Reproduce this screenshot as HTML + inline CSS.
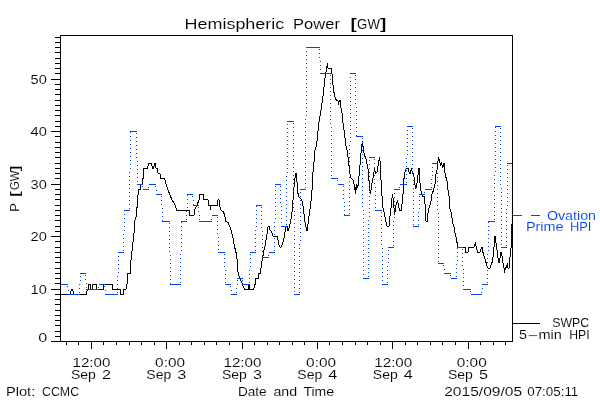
<!DOCTYPE html>
<html><head><meta charset="utf-8"><title>Hemispheric Power</title>
<style>html,body{margin:0;padding:0;background:#fff}svg{display:block}text{font-family:"Liberation Sans",sans-serif;fill:#000;stroke:#fff;stroke-width:.1px}</style></head><body>
<svg width="600" height="400" viewBox="0 0 600 400">
<rect width="600" height="400" fill="#fff"/>
<path d="M60.5 35.5H512.5V341.5H60.5ZM51 341.5H60M51 341.5H60M55 336.5H60M55 331.5H60M55 325.5H60M55 320.5H60M55 315.5H60M55 310.5H60M55 304.5H60M55 299.5H60M55 294.5H60M51 289.5H60M55 283.5H60M55 278.5H60M55 273.5H60M55 268.5H60M55 262.5H60M55 257.5H60M55 252.5H60M55 247.5H60M55 241.5H60M51 236.5H60M55 231.5H60M55 226.5H60M55 220.5H60M55 215.5H60M55 210.5H60M55 205.5H60M55 199.5H60M55 194.5H60M55 189.5H60M51 184.5H60M55 178.5H60M55 173.5H60M55 168.5H60M55 163.5H60M55 157.5H60M55 152.5H60M55 147.5H60M55 142.5H60M55 136.5H60M51 131.5H60M55 126.5H60M55 121.5H60M55 115.5H60M55 110.5H60M55 105.5H60M55 100.5H60M55 94.5H60M55 89.5H60M55 84.5H60M51 79.5H60M55 73.5H60M55 68.5H60M55 63.5H60M55 58.5H60M55 52.5H60M55 47.5H60M55 42.5H60M55 37.5H60M66.5 342V345M78.5 342V345M91.5 342V349M103.5 342V345M116.5 342V345M129.5 342V345M141.5 342V345M154.5 342V345M166.5 342V349M179.5 342V345M191.5 342V345M204.5 342V345M216.5 342V345M229.5 342V345M242.5 342V349M254.5 342V345M267.5 342V345M279.5 342V345M292.5 342V345M304.5 342V345M317.5 342V349M329.5 342V345M342.5 342V345M355.5 342V345M367.5 342V345M380.5 342V345M392.5 342V349M405.5 342V345M417.5 342V345M430.5 342V345M442.5 342V345M455.5 342V345M468.5 342V349M480.5 342V345M493.5 342V345M505.5 342V345" fill="none" stroke="#000" stroke-width="1" shape-rendering="crispEdges"/>
<polyline points="60.5,294.5 70,294.5 70.5,292.5 71.5,289.5 72.5,289.5 73.5,292.5 74,294.5 86.5,294.5 86.5,292 87.5,289.5 88.5,289.5 88.5,284.5 90.5,284.5 90.5,289.5 92.5,289.5 92.5,284.5 96.5,284.5 96.5,289.5 103.5,289.5 103.5,284.5 112.5,284.5 112.5,289.5 120,289.4 120.4,294.4 123.2,294.4 123.6,289.4 126,289.4 127,284.4 127.4,276 128,273.4 130.4,273.4 130.4,266 131.4,256 132.4,248 133.4,238 134.4,230 134.4,221 135.6,219 136.6,214 137.6,198 138.5,192 138.5,189.5 140.5,189.5 140.5,184.5 142.5,184.5 142.5,178.5 143.5,178 143.5,169 144,168.5 147.5,168.5 148.5,163.5 151.5,163.5 152.5,168 153.5,168 154.5,163.5 155.5,163.5 156,168 157.5,168.5 158,173 160,173.5 160.5,178.5 164.5,178.5 166,184 168,190 170,195 172,200 174,203 175.6,206 176.6,210 189,210 189.4,215 194,215 194.4,210 195.6,208 197,205 199,200 200,194.4 203.6,194.4 204,199.6 208,199.6 208.6,205 210,205 210.6,210 211,205 217.6,205 218,199.6 219,199.6 219.4,205 221,210 223.6,212 225,217 226,221.4 228,222.4 230,227 231.6,232 233,238 234.4,246 236,252.4 237.5,262 237.5,271 238.5,273.5 239.5,278 240.5,280 241.5,282 242.5,284.5 243.5,287 244.5,289.5 248.5,289.5 249,284.5 249.5,284.5 250,289.5 253.5,289.5 254.5,287 254.5,284.5 255.5,284.5 255.5,278.5 258.5,278.5 259,273.5 260.5,273.5 261,268 262,261 263,256 264,250 265,246 266,240 267,234 268,227 269,226.4 270,230 271.6,232 273,236 277,236.4 278,240 279,245 280,247 281,247 282,245 283.6,240 285,232 286,227 287.4,226.4 288,231 289.4,227 290.4,222 291.6,216 292.6,206 293.6,192 294.6,180 296,173 297,182 297.6,192 299,197 301,199 302.4,202 303.6,210 304.4,218 305.6,225 307,231 308,224 309,216 310.4,206 311.6,196 312.4,184 313,172 314,162 314.4,158 315,150 316.4,146 317.4,138 318.4,126 320,116 321.4,108 322.4,100 323.6,92 324.4,82 325.4,76 326.4,70 327.4,63 328,68 331.4,68.4 332,74 332.6,82 333.6,90 334.6,96 336,99.6 338,101 338.6,105 339.4,100 340.4,100 341,108 342,113 342.6,120 344,130 345,138 346,146 347.4,152 348.6,162 349.6,172 351,178 353,180 354,184 355,190 355.6,194 356.2,184.4 356.8,190.4 357.4,185 357.8,188 358.6,180 359.6,170 360.6,158 361.6,146 362.6,141 363.4,150 364.4,155 366,159 367,164 368,169 368.4,174 369.4,186 370.4,194 371.4,188 372.4,180 373.6,176 374.4,168 375.6,173 377,172 378.4,164 379.4,157 380.4,164 381,180 382,196 383,208 384.4,214 385.6,220 387,226 389,226 389.6,219 390.6,212 391.6,202 392.4,194 393.4,200 394,208 394.6,215 395.6,207 396.6,203 397.6,200 398.4,205 399.4,210 401.6,210.4 402,204 403,194 403.4,186 404.4,174 405.6,170 406.6,168 408,168 409.4,173 410.4,173 411.4,168 412.4,173 413.6,174 414.6,182 415.6,189 416.6,186 417.6,178 419,168 419.6,179 420.6,188 421.4,193 422.6,196 424,196 425,204 425.6,213 426,221 427.4,221 428,213 429,208 430.4,204 431.6,198 432,194 433.6,190 435,184 436,174 437.4,168 438.4,157 439.4,160 440.4,165 441.6,163 442.6,168 444,163 444.4,170 445.6,176 447,181 448,190 449,196 450,209 451.6,214 452.4,222 454,227 455,233 456.6,239 457.6,247.4 465,247.4 465.6,252.4 468,252.4 468.6,247.4 474,247.4 475.4,242.4 476.4,248 477.6,252.4 480,252.4 481,249 482,247.4 483,252.4 484,256 485.4,260 486.6,265 487.6,268 490,268.4 491,265 492.6,261 493.6,252 494.4,242 495,236.4 496,243 497,250 498,258 499,263 500,258 501,252.4 502,256 503,263 504,268 504.4,273 505.4,268 506.6,267 507.6,263 508,268 509,268 509.6,261 510.6,252 511.4,245 511.5,224" fill="none" stroke="#000" stroke-width="1" stroke-linejoin="miter" shape-rendering="crispEdges"/>
<path d="M67 286h1v1h-1zM68 290h1v1h-1zM79 292h1v1h-1zM79 288h1v1h-1zM79 284h1v1h-1zM80 280h1v1h-1zM80 276h1v1h-1zM85 275h1v1h-1zM85 279h1v1h-1zM86 283h1v1h-1zM86 287h1v1h-1zM98 287h1v1h-1zM104 286h1v1h-1zM105 290h1v1h-1zM117 292h1v1h-1zM117 288h1v1h-1zM117 284h1v1h-1zM117 280h1v1h-1zM117 276h1v1h-1zM118 272h1v1h-1zM118 268h1v1h-1zM118 264h1v1h-1zM118 260h1v1h-1zM118 256h1v1h-1zM123 250h1v1h-1zM123 246h1v1h-1zM123 242h1v1h-1zM123 238h1v1h-1zM123 234h1v1h-1zM124 230h1v1h-1zM124 226h1v1h-1zM124 222h1v1h-1zM124 218h1v1h-1zM124 214h1v1h-1zM129 208h1v1h-1zM129 204h1v1h-1zM129 200h1v1h-1zM129 196h1v1h-1zM129 192h1v1h-1zM129 188h1v1h-1zM129 184h1v1h-1zM129 180h1v1h-1zM129 176h1v1h-1zM129 172h1v1h-1zM130 168h1v1h-1zM130 164h1v1h-1zM130 160h1v1h-1zM130 156h1v1h-1zM130 152h1v1h-1zM130 148h1v1h-1zM130 144h1v1h-1zM130 140h1v1h-1zM130 136h1v1h-1zM130 132h1v1h-1zM136 133h1v1h-1zM136 137h1v1h-1zM136 141h1v1h-1zM136 145h1v1h-1zM136 149h1v1h-1zM136 153h1v1h-1zM136 157h1v1h-1zM137 161h1v1h-1zM137 165h1v1h-1zM137 169h1v1h-1zM137 173h1v1h-1zM137 177h1v1h-1zM137 181h1v1h-1zM142 186h1v1h-1zM148 187h1v1h-1zM155 186h1v1h-1zM156 190h1v1h-1zM161 196h1v1h-1zM161 200h1v1h-1zM161 204h1v1h-1zM162 208h1v1h-1zM162 212h1v1h-1zM162 216h1v1h-1zM162 220h1v1h-1zM169 223h1v1h-1zM169 227h1v1h-1zM169 231h1v1h-1zM169 235h1v1h-1zM169 239h1v1h-1zM169 243h1v1h-1zM169 247h1v1h-1zM169 251h1v1h-1zM170 255h1v1h-1zM170 259h1v1h-1zM170 263h1v1h-1zM170 267h1v1h-1zM170 271h1v1h-1zM170 275h1v1h-1zM170 279h1v1h-1zM170 283h1v1h-1zM180 282h1v1h-1zM180 278h1v1h-1zM180 274h1v1h-1zM180 270h1v1h-1zM180 266h1v1h-1zM180 262h1v1h-1zM180 258h1v1h-1zM180 254h1v1h-1zM181 250h1v1h-1zM181 246h1v1h-1zM181 242h1v1h-1zM181 238h1v1h-1zM181 234h1v1h-1zM181 230h1v1h-1zM181 226h1v1h-1zM181 222h1v1h-1zM186 219h1v1h-1zM186 215h1v1h-1zM186 211h1v1h-1zM187 207h1v1h-1zM187 203h1v1h-1zM187 199h1v1h-1zM187 195h1v1h-1zM192 196h1v1h-1zM193 200h1v1h-1zM193 204h1v1h-1zM198 207h1v1h-1zM198 211h1v1h-1zM199 215h1v1h-1zM199 219h1v1h-1zM211 219h1v1h-1zM217 217h1v1h-1zM217 221h1v1h-1zM217 225h1v1h-1zM217 229h1v1h-1zM217 233h1v1h-1zM218 237h1v1h-1zM218 241h1v1h-1zM218 245h1v1h-1zM218 249h1v1h-1zM224 254h1v1h-1zM224 258h1v1h-1zM224 262h1v1h-1zM224 266h1v1h-1zM225 270h1v1h-1zM225 274h1v1h-1zM225 278h1v1h-1zM225 282h1v1h-1zM230 286h1v1h-1zM231 290h1v1h-1zM236 292h1v1h-1zM236 288h1v1h-1zM237 284h1v1h-1zM237 280h1v1h-1zM242 280h1v1h-1zM249 282h1v1h-1zM249 278h1v1h-1zM249 274h1v1h-1zM249 270h1v1h-1zM250 266h1v1h-1zM250 262h1v1h-1zM250 258h1v1h-1zM250 254h1v1h-1zM255 250h1v1h-1zM255 246h1v1h-1zM255 242h1v1h-1zM255 238h1v1h-1zM255 234h1v1h-1zM255 230h1v1h-1zM256 226h1v1h-1zM256 222h1v1h-1zM256 218h1v1h-1zM256 214h1v1h-1zM256 210h1v1h-1zM256 206h1v1h-1zM261 207h1v1h-1zM261 211h1v1h-1zM261 215h1v1h-1zM261 219h1v1h-1zM261 223h1v1h-1zM261 227h1v1h-1zM262 231h1v1h-1zM262 235h1v1h-1zM262 239h1v1h-1zM262 243h1v1h-1zM262 247h1v1h-1zM262 251h1v1h-1zM262 255h1v1h-1zM268 255h1v1h-1zM274 250h1v1h-1zM274 246h1v1h-1zM274 242h1v1h-1zM274 238h1v1h-1zM274 234h1v1h-1zM274 230h1v1h-1zM274 226h1v1h-1zM274 222h1v1h-1zM275 218h1v1h-1zM275 214h1v1h-1zM275 210h1v1h-1zM275 206h1v1h-1zM275 202h1v1h-1zM275 198h1v1h-1zM275 194h1v1h-1zM275 190h1v1h-1zM275 186h1v1h-1zM280 186h1v1h-1zM280 190h1v1h-1zM280 194h1v1h-1zM280 198h1v1h-1zM280 202h1v1h-1zM281 206h1v1h-1zM281 210h1v1h-1zM281 214h1v1h-1zM281 218h1v1h-1zM281 222h1v1h-1zM286 224h1v1h-1zM286 220h1v1h-1zM286 216h1v1h-1zM286 212h1v1h-1zM286 208h1v1h-1zM286 204h1v1h-1zM286 200h1v1h-1zM286 196h1v1h-1zM286 192h1v1h-1zM286 188h1v1h-1zM286 184h1v1h-1zM286 180h1v1h-1zM286 176h1v1h-1zM287 172h1v1h-1zM287 168h1v1h-1zM287 164h1v1h-1zM287 160h1v1h-1zM287 156h1v1h-1zM287 152h1v1h-1zM287 148h1v1h-1zM287 144h1v1h-1zM287 140h1v1h-1zM287 136h1v1h-1zM287 132h1v1h-1zM287 128h1v1h-1zM287 124h1v1h-1zM293 123h1v1h-1zM293 127h1v1h-1zM293 131h1v1h-1zM293 135h1v1h-1zM293 139h1v1h-1zM293 143h1v1h-1zM293 147h1v1h-1zM293 151h1v1h-1zM293 155h1v1h-1zM293 159h1v1h-1zM293 163h1v1h-1zM293 167h1v1h-1zM293 171h1v1h-1zM293 175h1v1h-1zM293 179h1v1h-1zM293 183h1v1h-1zM293 187h1v1h-1zM293 191h1v1h-1zM293 195h1v1h-1zM293 199h1v1h-1zM293 203h1v1h-1zM293 207h1v1h-1zM294 211h1v1h-1zM294 215h1v1h-1zM294 219h1v1h-1zM294 223h1v1h-1zM294 227h1v1h-1zM294 231h1v1h-1zM294 235h1v1h-1zM294 239h1v1h-1zM294 243h1v1h-1zM294 247h1v1h-1zM294 251h1v1h-1zM294 255h1v1h-1zM294 259h1v1h-1zM294 263h1v1h-1zM294 267h1v1h-1zM294 271h1v1h-1zM294 275h1v1h-1zM294 279h1v1h-1zM294 283h1v1h-1zM294 287h1v1h-1zM294 291h1v1h-1zM299 292h1v1h-1zM299 288h1v1h-1zM299 284h1v1h-1zM299 280h1v1h-1zM299 276h1v1h-1zM299 272h1v1h-1zM299 268h1v1h-1zM299 264h1v1h-1zM299 260h1v1h-1zM299 256h1v1h-1zM299 252h1v1h-1zM299 248h1v1h-1zM299 244h1v1h-1zM300 240h1v1h-1zM300 236h1v1h-1zM300 232h1v1h-1zM300 228h1v1h-1zM300 224h1v1h-1zM300 220h1v1h-1zM300 216h1v1h-1zM300 212h1v1h-1zM300 208h1v1h-1zM300 204h1v1h-1zM300 200h1v1h-1zM300 196h1v1h-1zM300 192h1v1h-1zM305 187h1v1h-1zM305 183h1v1h-1zM305 179h1v1h-1zM305 175h1v1h-1zM305 171h1v1h-1zM305 167h1v1h-1zM305 163h1v1h-1zM305 159h1v1h-1zM305 155h1v1h-1zM305 151h1v1h-1zM305 147h1v1h-1zM305 143h1v1h-1zM305 139h1v1h-1zM305 135h1v1h-1zM305 131h1v1h-1zM305 127h1v1h-1zM305 123h1v1h-1zM305 119h1v1h-1zM306 115h1v1h-1zM306 111h1v1h-1zM306 107h1v1h-1zM306 103h1v1h-1zM306 99h1v1h-1zM306 95h1v1h-1zM306 91h1v1h-1zM306 87h1v1h-1zM306 83h1v1h-1zM306 79h1v1h-1zM306 75h1v1h-1zM306 71h1v1h-1zM306 67h1v1h-1zM306 63h1v1h-1zM306 59h1v1h-1zM306 55h1v1h-1zM306 51h1v1h-1zM319 49h1v1h-1zM319 53h1v1h-1zM319 57h1v1h-1zM320 61h1v1h-1zM320 65h1v1h-1zM320 69h1v1h-1zM330 75h1v1h-1zM330 79h1v1h-1zM330 83h1v1h-1zM330 87h1v1h-1zM330 91h1v1h-1zM330 95h1v1h-1zM330 99h1v1h-1zM330 103h1v1h-1zM330 107h1v1h-1zM330 111h1v1h-1zM330 115h1v1h-1zM330 119h1v1h-1zM330 123h1v1h-1zM331 127h1v1h-1zM331 131h1v1h-1zM331 135h1v1h-1zM331 139h1v1h-1zM331 143h1v1h-1zM331 147h1v1h-1zM331 151h1v1h-1zM331 155h1v1h-1zM331 159h1v1h-1zM331 163h1v1h-1zM331 167h1v1h-1zM331 171h1v1h-1zM331 175h1v1h-1zM337 180h1v1h-1zM343 186h1v1h-1zM343 190h1v1h-1zM343 194h1v1h-1zM343 198h1v1h-1zM344 202h1v1h-1zM344 206h1v1h-1zM344 210h1v1h-1zM344 214h1v1h-1zM349 213h1v1h-1zM349 209h1v1h-1zM349 205h1v1h-1zM349 201h1v1h-1zM349 197h1v1h-1zM349 193h1v1h-1zM349 189h1v1h-1zM349 185h1v1h-1zM349 181h1v1h-1zM349 177h1v1h-1zM349 173h1v1h-1zM349 169h1v1h-1zM349 165h1v1h-1zM349 161h1v1h-1zM349 157h1v1h-1zM349 153h1v1h-1zM349 149h1v1h-1zM349 145h1v1h-1zM350 141h1v1h-1zM350 137h1v1h-1zM350 133h1v1h-1zM350 129h1v1h-1zM350 125h1v1h-1zM350 121h1v1h-1zM350 117h1v1h-1zM350 113h1v1h-1zM350 109h1v1h-1zM350 105h1v1h-1zM350 101h1v1h-1zM350 97h1v1h-1zM350 93h1v1h-1zM350 89h1v1h-1zM350 85h1v1h-1zM350 81h1v1h-1zM350 77h1v1h-1zM355 75h1v1h-1zM355 79h1v1h-1zM355 83h1v1h-1zM355 87h1v1h-1zM355 91h1v1h-1zM355 95h1v1h-1zM355 99h1v1h-1zM355 103h1v1h-1zM356 107h1v1h-1zM356 111h1v1h-1zM356 115h1v1h-1zM356 119h1v1h-1zM356 123h1v1h-1zM356 127h1v1h-1zM356 131h1v1h-1zM356 135h1v1h-1zM362 138h1v1h-1zM362 142h1v1h-1zM362 146h1v1h-1zM362 150h1v1h-1zM362 154h1v1h-1zM362 158h1v1h-1zM362 162h1v1h-1zM362 166h1v1h-1zM362 170h1v1h-1zM362 174h1v1h-1zM362 178h1v1h-1zM362 182h1v1h-1zM362 186h1v1h-1zM362 190h1v1h-1zM362 194h1v1h-1zM362 198h1v1h-1zM362 202h1v1h-1zM362 206h1v1h-1zM363 210h1v1h-1zM363 214h1v1h-1zM363 218h1v1h-1zM363 222h1v1h-1zM363 226h1v1h-1zM363 230h1v1h-1zM363 234h1v1h-1zM363 238h1v1h-1zM363 242h1v1h-1zM363 246h1v1h-1zM363 250h1v1h-1zM363 254h1v1h-1zM363 258h1v1h-1zM363 262h1v1h-1zM363 266h1v1h-1zM363 270h1v1h-1zM363 274h1v1h-1zM368 276h1v1h-1zM368 272h1v1h-1zM368 268h1v1h-1zM368 264h1v1h-1zM368 260h1v1h-1zM368 256h1v1h-1zM368 252h1v1h-1zM368 248h1v1h-1zM368 244h1v1h-1zM368 240h1v1h-1zM368 236h1v1h-1zM368 232h1v1h-1zM368 228h1v1h-1zM368 224h1v1h-1zM368 220h1v1h-1zM369 216h1v1h-1zM369 212h1v1h-1zM369 208h1v1h-1zM369 204h1v1h-1zM369 200h1v1h-1zM369 196h1v1h-1zM369 192h1v1h-1zM369 188h1v1h-1zM369 184h1v1h-1zM369 180h1v1h-1zM369 176h1v1h-1zM369 172h1v1h-1zM369 168h1v1h-1zM369 164h1v1h-1zM369 160h1v1h-1zM374 159h1v1h-1zM374 163h1v1h-1zM374 167h1v1h-1zM374 171h1v1h-1zM374 175h1v1h-1zM374 179h1v1h-1zM374 183h1v1h-1zM375 187h1v1h-1zM375 191h1v1h-1zM375 195h1v1h-1zM375 199h1v1h-1zM375 203h1v1h-1zM375 207h1v1h-1zM381 212h1v1h-1zM381 216h1v1h-1zM381 220h1v1h-1zM381 224h1v1h-1zM381 228h1v1h-1zM381 232h1v1h-1zM381 236h1v1h-1zM381 240h1v1h-1zM381 244h1v1h-1zM382 248h1v1h-1zM382 252h1v1h-1zM382 256h1v1h-1zM382 260h1v1h-1zM382 264h1v1h-1zM382 268h1v1h-1zM382 272h1v1h-1zM382 276h1v1h-1zM382 280h1v1h-1zM387 282h1v1h-1zM387 278h1v1h-1zM387 274h1v1h-1zM387 270h1v1h-1zM387 266h1v1h-1zM388 262h1v1h-1zM388 258h1v1h-1zM388 254h1v1h-1zM388 250h1v1h-1zM393 245h1v1h-1zM393 241h1v1h-1zM393 237h1v1h-1zM393 233h1v1h-1zM393 229h1v1h-1zM393 225h1v1h-1zM393 221h1v1h-1zM394 217h1v1h-1zM394 213h1v1h-1zM394 209h1v1h-1zM394 205h1v1h-1zM394 201h1v1h-1zM394 197h1v1h-1zM394 193h1v1h-1zM399 187h1v1h-1zM406 182h1v1h-1zM406 178h1v1h-1zM406 174h1v1h-1zM406 170h1v1h-1zM406 166h1v1h-1zM406 162h1v1h-1zM406 158h1v1h-1zM407 154h1v1h-1zM407 150h1v1h-1zM407 146h1v1h-1zM407 142h1v1h-1zM407 138h1v1h-1zM407 134h1v1h-1zM407 130h1v1h-1zM412 128h1v1h-1zM412 132h1v1h-1zM412 136h1v1h-1zM412 140h1v1h-1zM412 144h1v1h-1zM412 148h1v1h-1zM412 152h1v1h-1zM412 156h1v1h-1zM412 160h1v1h-1zM412 164h1v1h-1zM412 168h1v1h-1zM412 172h1v1h-1zM413 176h1v1h-1zM413 180h1v1h-1zM413 184h1v1h-1zM413 188h1v1h-1zM413 192h1v1h-1zM413 196h1v1h-1zM413 200h1v1h-1zM413 204h1v1h-1zM413 208h1v1h-1zM413 212h1v1h-1zM413 216h1v1h-1zM413 220h1v1h-1zM413 224h1v1h-1zM418 224h1v1h-1zM418 220h1v1h-1zM418 216h1v1h-1zM418 212h1v1h-1zM419 208h1v1h-1zM419 204h1v1h-1zM419 200h1v1h-1zM419 196h1v1h-1zM424 192h1v1h-1zM431 187h1v1h-1zM431 183h1v1h-1zM431 179h1v1h-1zM432 175h1v1h-1zM432 171h1v1h-1zM432 167h1v1h-1zM437 165h1v1h-1zM437 169h1v1h-1zM437 173h1v1h-1zM437 177h1v1h-1zM437 181h1v1h-1zM437 185h1v1h-1zM437 189h1v1h-1zM437 193h1v1h-1zM437 197h1v1h-1zM437 201h1v1h-1zM437 205h1v1h-1zM437 209h1v1h-1zM438 213h1v1h-1zM438 217h1v1h-1zM438 221h1v1h-1zM438 225h1v1h-1zM438 229h1v1h-1zM438 233h1v1h-1zM438 237h1v1h-1zM438 241h1v1h-1zM438 245h1v1h-1zM438 249h1v1h-1zM438 253h1v1h-1zM438 257h1v1h-1zM438 261h1v1h-1zM443 265h1v1h-1zM444 269h1v1h-1zM450 275h1v1h-1zM456 276h1v1h-1zM456 272h1v1h-1zM456 268h1v1h-1zM456 264h1v1h-1zM457 260h1v1h-1zM457 256h1v1h-1zM457 252h1v1h-1zM457 248h1v1h-1zM462 249h1v1h-1zM462 253h1v1h-1zM462 257h1v1h-1zM462 261h1v1h-1zM462 265h1v1h-1zM463 269h1v1h-1zM463 273h1v1h-1zM463 277h1v1h-1zM463 281h1v1h-1zM463 285h1v1h-1zM470 291h1v1h-1zM481 292h1v1h-1zM482 288h1v1h-1zM487 282h1v1h-1zM487 278h1v1h-1zM487 274h1v1h-1zM487 270h1v1h-1zM487 266h1v1h-1zM487 262h1v1h-1zM487 258h1v1h-1zM487 254h1v1h-1zM488 250h1v1h-1zM488 246h1v1h-1zM488 242h1v1h-1zM488 238h1v1h-1zM488 234h1v1h-1zM488 230h1v1h-1zM488 226h1v1h-1zM488 222h1v1h-1zM494 219h1v1h-1zM494 215h1v1h-1zM494 211h1v1h-1zM494 207h1v1h-1zM494 203h1v1h-1zM494 199h1v1h-1zM494 195h1v1h-1zM494 191h1v1h-1zM494 187h1v1h-1zM494 183h1v1h-1zM494 179h1v1h-1zM494 175h1v1h-1zM495 171h1v1h-1zM495 167h1v1h-1zM495 163h1v1h-1zM495 159h1v1h-1zM495 155h1v1h-1zM495 151h1v1h-1zM495 147h1v1h-1zM495 143h1v1h-1zM495 139h1v1h-1zM495 135h1v1h-1zM495 131h1v1h-1zM495 127h1v1h-1zM500 128h1v1h-1zM500 132h1v1h-1zM500 136h1v1h-1zM500 140h1v1h-1zM500 144h1v1h-1zM500 148h1v1h-1zM500 152h1v1h-1zM500 156h1v1h-1zM500 160h1v1h-1zM500 164h1v1h-1zM500 168h1v1h-1zM500 172h1v1h-1zM500 176h1v1h-1zM500 180h1v1h-1zM500 184h1v1h-1zM501 188h1v1h-1zM501 192h1v1h-1zM501 196h1v1h-1zM501 200h1v1h-1zM501 204h1v1h-1zM501 208h1v1h-1zM501 212h1v1h-1zM501 216h1v1h-1zM501 220h1v1h-1zM501 224h1v1h-1zM501 228h1v1h-1zM501 232h1v1h-1zM501 236h1v1h-1zM501 240h1v1h-1zM501 244h1v1h-1zM506 245h1v1h-1zM506 241h1v1h-1zM506 237h1v1h-1zM506 233h1v1h-1zM506 229h1v1h-1zM506 225h1v1h-1zM506 221h1v1h-1zM506 217h1v1h-1zM506 213h1v1h-1zM506 209h1v1h-1zM507 205h1v1h-1zM507 201h1v1h-1zM507 197h1v1h-1zM507 193h1v1h-1zM507 189h1v1h-1zM507 185h1v1h-1zM507 181h1v1h-1zM507 177h1v1h-1zM507 173h1v1h-1zM507 169h1v1h-1zM507 165h1v1h-1z" fill="#0044f0" stroke="none" shape-rendering="crispEdges"/>
<path d="M61 284.5H68M68 294.5H80M80 273.5H86M86 289.5H99M99 284.5H105M105 294.5H118M118 252.5H124M124 210.5H130M130 131.5H137M137 184.5H143M143 189.5H149M149 184.5H156M156 194.5H162M162 221.5H170M170 284.5H181M181 221.5H187M187 194.5H193M193 205.5H199M199 221.5H212M212 215.5H218M218 252.5H225M225 284.5H231M231 294.5H237M237 278.5H243M243 284.5H250M250 252.5H256M256 205.5H262M262 257.5H269M269 252.5H275M275 184.5H281M281 226.5H287M287 121.5H294M294 294.5H300M300 189.5H306M306 47.5H320M320 73.5H331M331 178.5H338M338 184.5H344M344 215.5H350M350 73.5H356M356 136.5H363M363 278.5H369M369 157.5H375M375 210.5H382M382 284.5H388M388 247.5H394M394 189.5H400M400 184.5H407M407 126.5H413M413 226.5H419M419 194.5H425M425 189.5H432M432 163.5H438M438 263.5H444M444 273.5H451M451 278.5H457M457 247.5H463M463 289.5H471M471 294.5H482M482 284.5H488M488 221.5H495M495 126.5H501M501 247.5H507M507 163.5H512" fill="none" stroke="#0044f0" stroke-width="1" shape-rendering="crispEdges"/>
<path d="M513 215.5H522M531 215.5H540" stroke="#0044f0" stroke-width="1" fill="none" shape-rendering="crispEdges"/>
<path d="M513 323.5H540" stroke="#000" stroke-width="1" fill="none" shape-rendering="crispEdges"/>
<text y="29.2" font-size="15.4"><tspan x="184.5" textLength="99.8" lengthAdjust="spacingAndGlyphs">Hemispheric</tspan> <tspan x="293.1" textLength="46.8" lengthAdjust="spacingAndGlyphs">Power</tspan> <tspan x="350.4" textLength="6.3" lengthAdjust="spacingAndGlyphs" font-weight="bold">[</tspan><tspan x="357.1" textLength="22.8" lengthAdjust="spacingAndGlyphs">GW</tspan><tspan x="380.1" textLength="6.3" lengthAdjust="spacingAndGlyphs" font-weight="bold">]</tspan></text>
<text y="83.8" font-size="13"><tspan x="30.5" textLength="16.3" lengthAdjust="spacingAndGlyphs">50</tspan></text>
<text y="136.3" font-size="13"><tspan x="30.5" textLength="16.3" lengthAdjust="spacingAndGlyphs">40</tspan></text>
<text y="188.8" font-size="13"><tspan x="30.5" textLength="16.3" lengthAdjust="spacingAndGlyphs">30</tspan></text>
<text y="241.3" font-size="13"><tspan x="30.5" textLength="16.3" lengthAdjust="spacingAndGlyphs">20</tspan></text>
<text y="293.8" font-size="13"><tspan x="30.5" textLength="16.3" lengthAdjust="spacingAndGlyphs">10</tspan></text>
<text y="341.7" font-size="13"><tspan x="38.2" textLength="9" lengthAdjust="spacingAndGlyphs">0</tspan></text>
<text y="366.8" font-size="13"><tspan x="72.5" textLength="37.9" lengthAdjust="spacingAndGlyphs">12:00</tspan></text>
<text y="378.8" font-size="13"><tspan x="71" textLength="24.9" lengthAdjust="spacingAndGlyphs">Sep</tspan> <tspan x="102" textLength="9" lengthAdjust="spacingAndGlyphs">2</tspan></text>
<text y="366.8" font-size="13"><tspan x="155.1" textLength="29.9" lengthAdjust="spacingAndGlyphs">0:00</tspan></text>
<text y="378.8" font-size="13"><tspan x="146.3" textLength="24.9" lengthAdjust="spacingAndGlyphs">Sep</tspan> <tspan x="177.3" textLength="9" lengthAdjust="spacingAndGlyphs">3</tspan></text>
<text y="366.8" font-size="13"><tspan x="223.5" textLength="37.9" lengthAdjust="spacingAndGlyphs">12:00</tspan></text>
<text y="378.8" font-size="13"><tspan x="222" textLength="24.9" lengthAdjust="spacingAndGlyphs">Sep</tspan> <tspan x="253" textLength="9" lengthAdjust="spacingAndGlyphs">3</tspan></text>
<text y="366.8" font-size="13"><tspan x="306.1" textLength="29.9" lengthAdjust="spacingAndGlyphs">0:00</tspan></text>
<text y="378.8" font-size="13"><tspan x="297.3" textLength="24.9" lengthAdjust="spacingAndGlyphs">Sep</tspan> <tspan x="328.3" textLength="9" lengthAdjust="spacingAndGlyphs">4</tspan></text>
<text y="366.8" font-size="13"><tspan x="374.3" textLength="37.9" lengthAdjust="spacingAndGlyphs">12:00</tspan></text>
<text y="378.8" font-size="13"><tspan x="372.8" textLength="24.9" lengthAdjust="spacingAndGlyphs">Sep</tspan> <tspan x="403.8" textLength="9" lengthAdjust="spacingAndGlyphs">4</tspan></text>
<text y="366.8" font-size="13"><tspan x="456.8" textLength="29.9" lengthAdjust="spacingAndGlyphs">0:00</tspan></text>
<text y="378.8" font-size="13"><tspan x="448" textLength="24.9" lengthAdjust="spacingAndGlyphs">Sep</tspan> <tspan x="479" textLength="9" lengthAdjust="spacingAndGlyphs">5</tspan></text>
<text y="395.9" font-size="13"><tspan x="5.9" textLength="29.4" lengthAdjust="spacingAndGlyphs">Plot:</tspan> <tspan x="42" textLength="37.1" lengthAdjust="spacingAndGlyphs">CCMC</tspan></text>
<text y="395.9" font-size="13"><tspan x="237.9" textLength="28.7" lengthAdjust="spacingAndGlyphs">Date</tspan> <tspan x="273.4" textLength="23.7" lengthAdjust="spacingAndGlyphs">and</tspan> <tspan x="303.4" textLength="30.7" lengthAdjust="spacingAndGlyphs">Time</tspan></text>
<text y="395.9" font-size="13"><tspan x="444.2" textLength="77.9" lengthAdjust="spacingAndGlyphs">2015/09/05</tspan> <tspan x="527.2" textLength="51.1" lengthAdjust="spacingAndGlyphs">07:05:11</tspan></text>
<text y="219.9" font-size="13" style="fill:#0044f0"><tspan x="546.9" textLength="49.1" lengthAdjust="spacingAndGlyphs">Ovation</tspan></text>
<text y="231.3" font-size="13" style="fill:#0044f0"><tspan x="525.9" textLength="37.7" lengthAdjust="spacingAndGlyphs">Prime</tspan> <tspan x="569.9" textLength="21.4" lengthAdjust="spacingAndGlyphs">HPI</tspan></text>
<text y="326.5" font-size="13"><tspan x="552.2" textLength="37" lengthAdjust="spacingAndGlyphs">SWPC</tspan></text>
<text y="338.6" font-size="13"><tspan x="519" textLength="8" lengthAdjust="spacingAndGlyphs">5</tspan><tspan x="527.2" textLength="11.4" lengthAdjust="spacingAndGlyphs">-</tspan><tspan x="538.5" textLength="23.3" lengthAdjust="spacingAndGlyphs">min</tspan> <tspan x="569.2" textLength="20.4" lengthAdjust="spacingAndGlyphs">HPI</tspan></text>
<text y="0" font-size="13" transform="translate(18.8 211) rotate(-90)"><tspan x="-0.8" textLength="8.4" lengthAdjust="spacingAndGlyphs">P</tspan> <tspan x="14.2" textLength="5.6" lengthAdjust="spacingAndGlyphs" font-weight="bold">[</tspan><tspan x="21" textLength="19.6" lengthAdjust="spacingAndGlyphs">GW</tspan><tspan x="39.7" textLength="5.4" lengthAdjust="spacingAndGlyphs" font-weight="bold">]</tspan></text>
</svg></body></html>
